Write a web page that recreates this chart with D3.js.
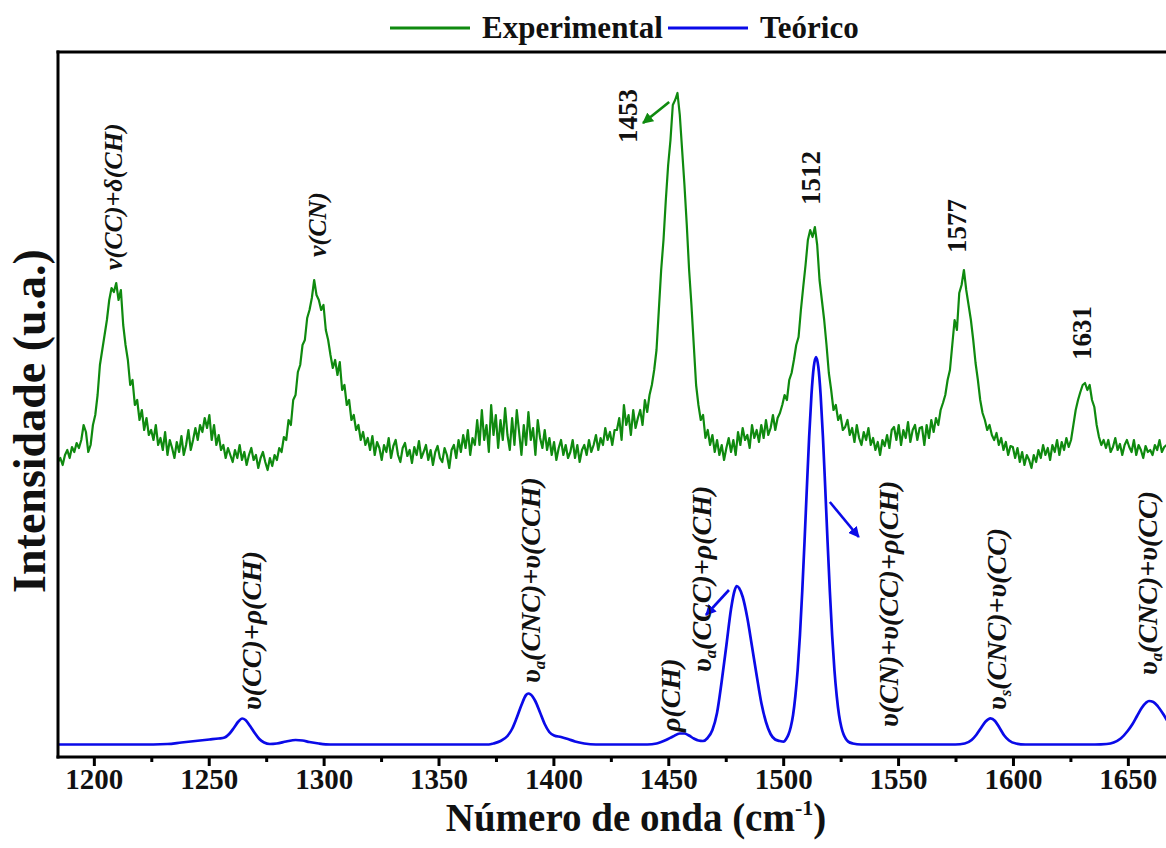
<!DOCTYPE html>
<html><head><meta charset="utf-8">
<script src="https://cdn.jsdelivr.net/npm/d3@7"></script>
<style>body{margin:0;background:#fff}svg{display:block}</style>
</head><body><svg id="c" width="1166" height="848"></svg>
<script>
// ---------- data ----------
const seriesNames = ["Experimental", "Teórico"];
const xTicks = [1200,1250,1300,1350,1400,1450,1500,1550,1600,1650];
const xMinorTicks = [1225,1275,1325,1375,1425,1475,1525,1575,1625];

// Experimental spectrum, uniformly sampled
const expStart = 1184.4, expStep = 1.0135;
const expIntensity = [
295,299,292,302,307,299,310,305,314,309,
317,332,325,305,312,332,342,362,392,407,
422,437,457,469,465,474,457,467,432,412,
397,372,377,352,357,337,347,327,339,322,
327,317,332,312,319,307,325,302,317,309,
299,315,305,321,302,312,327,307,317,329,
317,332,325,339,329,342,317,332,312,322,
307,312,299,309,302,295,307,299,312,297,
305,292,302,309,297,302,289,299,305,295,
287,299,291,302,297,309,305,320,317,337,
332,357,362,385,392,412,417,439,447,459,
477,462,457,447,452,427,417,402,389,397,
382,395,367,372,352,357,337,342,327,332,
317,325,312,319,307,321,302,315,309,297,
312,305,319,299,311,317,302,295,309,314,
301,307,294,310,302,316,299,305,312,297,
307,292,305,311,299,295,309,302,289,307,
312,299,317,305,322,309,327,302,319,312,
337,312,347,317,332,305,352,322,342,309,
337,317,349,322,307,339,312,347,325,302,
332,312,345,317,329,302,337,319,309,327,
307,319,302,315,297,309,317,302,312,299,
305,317,299,312,295,307,312,302,317,305,
312,322,307,319,312,329,317,325,312,327,
327,339,317,352,332,342,322,347,329,339,
347,332,357,345,362,372,387,407,447,487,
517,557,592,617,652,657,664,642,607,572,
532,487,452,412,372,352,337,342,319,327,
312,322,305,317,302,312,297,309,319,305,
317,302,325,312,329,317,322,309,332,319,
327,315,332,319,337,322,329,342,327,339,
344,352,362,357,377,384,397,412,420,447,
470,492,517,527,520,530,512,477,457,437,
412,384,367,347,352,337,342,327,330,337,
322,329,315,332,319,312,325,317,329,312,
319,307,315,302,317,311,322,309,327,330,
317,332,312,327,319,335,315,327,332,317,
329,330,312,332,319,337,325,339,332,347,
354,362,377,387,412,437,427,464,472,487,
467,452,437,417,394,377,357,344,337,327,
332,322,317,324,312,319,307,315,302,311,
310,299,309,295,305,292,302,297,289,302,
295,307,299,312,302,309,297,312,305,317,
302,315,307,319,310,317,332,347,357,365,
372,374,367,372,357,350,332,320,312,317,
309,317,305,310,319,307,313,302,312,317,
310,305,317,302,312,307,299,311,305,307,
302,312,307,317,305,310,312
];

// Theoretical spectrum
const theoWavenumber = [
1184.4,1199.6,1219.8,1232.0,1238.1,1244.2,1250.3,1254.3,1256.9,1258.9,
1260.9,1262.9,1264.5,1266.0,1268.0,1270.0,1272.0,1274.1,1276.6,1279.6,
1283.7,1287.8,1290.8,1293.8,1297.9,1302.9,1341.5,1371.9,1373.9,1377.0,
1380.0,1382.0,1384.0,1386.1,1388.1,1389.1,1390.1,1392.1,1394.1,1396.2,
1398.2,1400.3,1403.3,1406.3,1409.4,1413.4,1418.5,1440.8,1444.9,1449.0,
1452.0,1455.0,1457.0,1459.0,1461.1,1463.1,1465.1,1467.1,1469.2,1471.2,
1473.2,1475.3,1477.3,1478.8,1479.8,1480.8,1482.4,1484.4,1486.4,1488.5,
1490.5,1492.5,1494.5,1496.5,1498.5,1500.3,1501.3,1502.3,1503.3,1504.3,
1505.3,1506.3,1507.3,1508.3,1509.3,1510.3,1511.3,1512.3,1513.3,1514.3,
1515.3,1516.3,1517.3,1518.3,1519.3,1520.3,1521.3,1522.3,1523.3,1524.3,
1525.3,1526.3,1527.3,1528.3,1530.3,1534.0,1574.9,1579.0,1582.0,1584.0,
1586.1,1588.1,1590.2,1592.2,1594.2,1596.2,1598.3,1601.3,1605.4,1635.7,
1640.8,1643.8,1646.9,1649.9,1651.9,1654.0,1656.0,1658.0,1659.2,1661.1,
1663.1,1665.1,1667.1
];
const theoIntensity = [
12.5,12.5,12.5,13,14.5,16,17.5,18.5,19.5,23,
29,35.5,38.5,37,31,24,18,14.5,13,13.5,
15.5,17,16.5,15,13.5,12.5,12.5,12.5,13.5,16,
21,28,39,52,62,63.5,62.5,56,45,33,
25,21.5,20,18,15.5,13.5,12.5,12.5,13.5,17,
20.5,23.5,23.5,21.5,18.5,16.5,16,19,27,44,
75,112,148,166,171,169,160,139,111,81,
54,35,23,17.5,16,15.4,18,22.4,30,42,
61,87,122,166,216,269,320,362,390,400,
390,362,320,269,216,166,122,87,61,42,
30,22.4,18,15.4,13.5,12.5,12.5,13.5,17,22,
29,35.5,38.7,36,29,21.5,16.5,13.5,12.5,12.5,
13,14.5,18.5,26,32.5,41,49,54.5,56,55,
50.5,44,36.5
];

// Peak annotations (rotated text): wavenumber of text centre, intensity of text start
const labelText = ["ν(CC)+δ(CH)","ν(CN)","1453","1512","1577","1631",
  "υ(CC)+ρ(CH)","υ_a(CNC)+υ(CCH)","ρ(CH)","υ_a(CCC)+ρ(CH)","υ(CN)+υ(CC)+ρ(CH)","υ_s(CNC)+υ(CC)","υ_a(CNC)+υ(CC)"];
const labelWavenumber = [1208.3,1297.1,1432.4,1512.0,1575.6,1630.0,
  1268.6,1389.8,1450.7,1464.5,1545.6,1592.9,1658.3];
const labelIntensity = [487,500,614,552,504,397,
  47,74,25,85,30,47,82];
const labelSeries = [0,0,0,0,0,0,1,1,1,1,1,1,1];
const labelNumeric = [false,false,true,true,true,true,false,false,false,false,false,false,false];

// Arrows: from (wavenumber, intensity) to (wavenumber, intensity), series index
const arrowFromW = [1450.4,1476.4,1520.3];
const arrowFromI = [655,167,255];
const arrowToW = [1439.0,1466.4,1532.9];
const arrowToI = [634,142,220];
const arrowSeries = [0,1,1];

// ---------- drawing ----------
const colors = ["#0f8a0f","#0a0ae8"];
const W = 1166, H = 848;
const L = 58, R = 1166, T = 52, B = 757;
const svg = d3.select("#c");
const serif = "'Liberation Serif','Times New Roman',serif";

const x = d3.scaleLinear().domain([1184.4, 1666.6]).range([L, R]);
const y = d3.scaleLinear().domain([0, 705]).range([B, T]);

const defs = svg.append("defs");
defs.append("clipPath").attr("id","clip")
  .append("rect").attr("x",L).attr("y",T).attr("width",R-L+10).attr("height",B-T);
colors.forEach((c,i)=>{
  defs.append("marker").attr("id","arr"+i).attr("viewBox","0 0 10 10")
    .attr("refX",9).attr("refY",5).attr("markerWidth",4.2).attr("markerHeight",4.2)
    .attr("orient","auto").attr("markerUnits","strokeWidth")
    .append("path").attr("d","M0,0 L10,5 L0,10 z").attr("fill",c);
});

const plot = svg.append("g").attr("clip-path","url(#clip)");

const expData = expIntensity.map((v,i)=>[expStart + i*expStep, v]);
const theoData = theoWavenumber.map((w,i)=>[w, theoIntensity[i]]);

plot.append("path").datum(expData)
  .attr("fill","none").attr("stroke",colors[0]).attr("stroke-width",2.2)
  .attr("stroke-linejoin","round")
  .attr("d", d3.line().x(d=>x(d[0])).y(d=>y(d[1])));

plot.append("path").datum(theoData)
  .attr("fill","none").attr("stroke",colors[1]).attr("stroke-width",2.7)
  .attr("d", d3.line().x(d=>x(d[0])).y(d=>y(d[1])).curve(d3.curveMonotoneX));

// arrows
arrowFromW.forEach((w,i)=>{
  svg.append("line")
    .attr("x1",x(w)).attr("y1",y(arrowFromI[i]))
    .attr("x2",x(arrowToW[i])).attr("y2",y(arrowToI[i]))
    .attr("stroke",colors[arrowSeries[i]]).attr("stroke-width",2.6)
    .attr("marker-end","url(#arr"+arrowSeries[i]+")");
});

// labels
labelText.forEach((t,i)=>{
  const g = svg.append("g")
    .attr("transform",`translate(${x(labelWavenumber[i])},${y(labelIntensity[i])}) rotate(-90)`);
  const txt = g.append("text").attr("dy","0.35em").attr("text-anchor","start")
    .attr("font-family",serif).attr("fill","#111").attr("font-weight","bold");
  if (labelNumeric[i]) {
    txt.attr("font-size",27).text(t);
  } else {
    const fs = labelSeries[i] === 0 ? 26 : 28;
    txt.attr("font-size",fs).attr("font-style","italic");
    const parts = t.split(/_(.)/);
    let sub = false;
    parts.forEach((p,k)=>{
      if (k%2===1) {
        txt.append("tspan").attr("font-size",fs*0.6).attr("dy",5).text(p);
        sub = true;
      } else if (p.length) {
        const ts = txt.append("tspan").text(p);
        if (sub) { ts.attr("dy",-5); sub = false; }
      }
    });
  }
});

// frame
svg.append("line").attr("x1",L).attr("x2",L).attr("y1",T-1.5).attr("y2",B+1.5)
  .attr("stroke","#000").attr("stroke-width",3);
svg.append("line").attr("x1",L-1.5).attr("x2",W+5).attr("y1",T).attr("y2",T)
  .attr("stroke","#000").attr("stroke-width",3);

// x axis
const gx = svg.append("g").attr("transform",`translate(0,${B})`)
  .call(d3.axisBottom(x).tickValues(xTicks).tickSize(9).tickPadding(2).tickFormat(d3.format("d")));
gx.select(".domain").attr("stroke","#000").attr("stroke-width",3).attr("d",`M${L-1.5},0H${W+5}`);
gx.selectAll(".tick line").attr("stroke","#000").attr("stroke-width",3);
gx.selectAll(".tick text").attr("font-family",serif).attr("font-size",29)
  .attr("font-weight","bold").attr("fill","#111");
const gm = svg.append("g").attr("transform",`translate(0,${B})`)
  .call(d3.axisBottom(x).tickValues(xMinorTicks).tickSize(5).tickFormat(""));
gm.select(".domain").remove();
gm.selectAll(".tick line").attr("stroke","#000").attr("stroke-width",3);

// axis titles
const xt = svg.append("text").attr("x",636).attr("y",831).attr("text-anchor","middle")
  .attr("font-family",serif).attr("font-size",39).attr("font-weight","bold").attr("fill","#111");
xt.append("tspan").text("Número de onda (cm");
xt.append("tspan").attr("font-size",22).attr("dy",-16).text("-1");
xt.append("tspan").attr("dy",16).text(")");

svg.append("text").attr("transform","translate(45,421) rotate(-90)").attr("text-anchor","middle")
  .attr("font-family",serif).attr("font-size",46).attr("font-weight","bold").attr("fill","#111")
  .text("Intensidade (u.a.)");

// legend
const legX = [390, 668];
seriesNames.forEach((n,i)=>{
  svg.append("line").attr("x1",legX[i]).attr("x2",legX[i]+80).attr("y1",28).attr("y2",28)
    .attr("stroke",colors[i]).attr("stroke-width",3);
  svg.append("text").attr("x",legX[i]+92).attr("y",38)
    .attr("font-family",serif).attr("font-size",31).attr("font-weight","bold").attr("fill","#111")
    .text(n);
});
</script></body></html>
